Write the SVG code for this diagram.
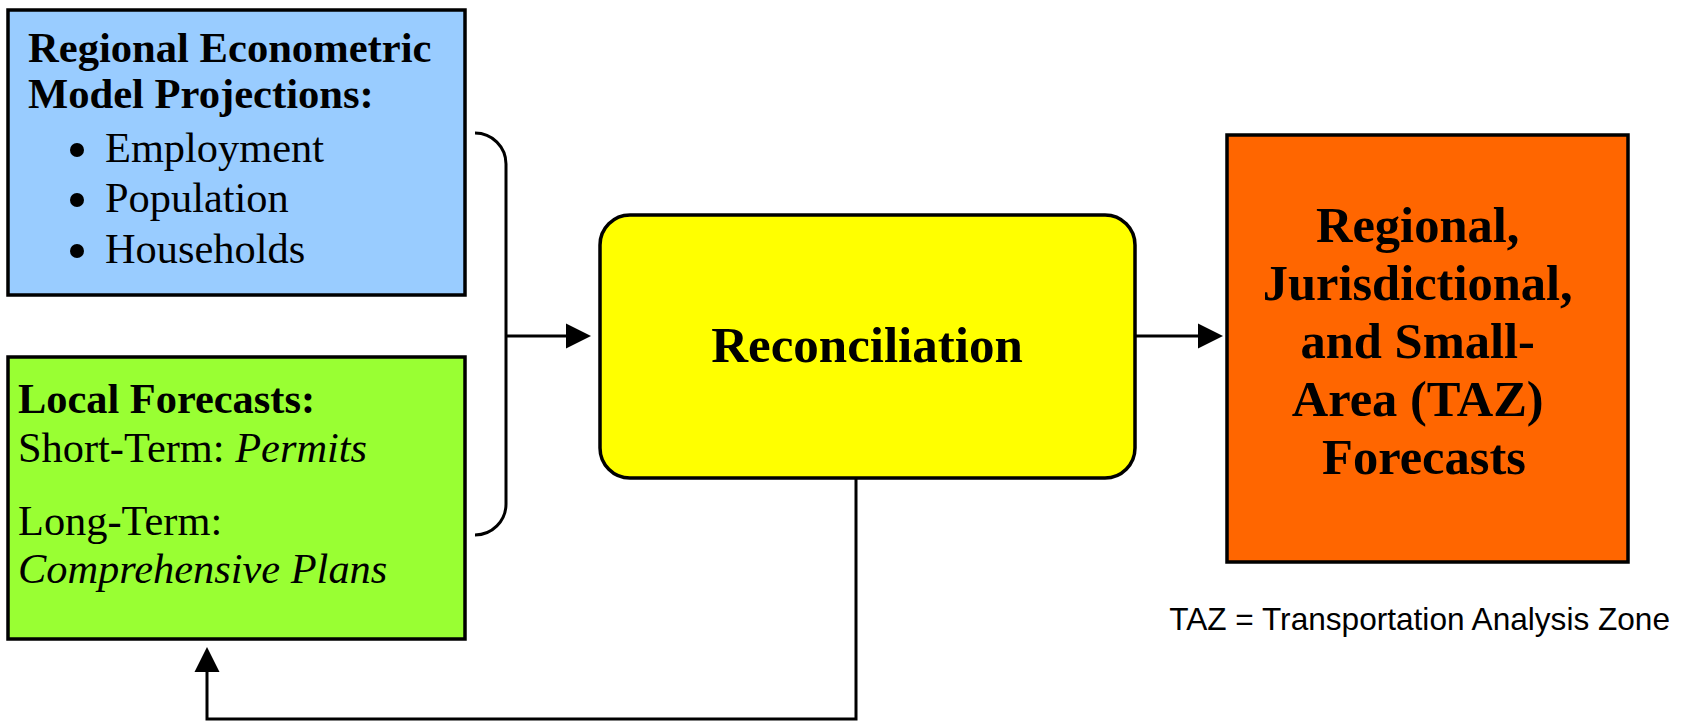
<svg xmlns="http://www.w3.org/2000/svg" width="1687" height="722" viewBox="0 0 1687 722">
<defs>
<style>
.box{stroke:#000;stroke-width:3.5}
.serif{font-family:"Liberation Serif","Times New Roman",serif;fill:#000}
.b{font-weight:bold}
.it{font-style:italic}
.conn{fill:none;stroke:#000;stroke-width:3}
.head{fill:#000;stroke:none}
</style>
</defs>
<rect width="1687" height="722" fill="#fff"/>
<g id="regional-model">
<rect class="box" x="8" y="10" width="457" height="285" fill="#99CCFF"/>
<text class="serif b" font-size="42.6" x="28" y="62">Regional Econometric</text>
<text class="serif b" font-size="42.6" x="28" y="108">Model Projections:</text>
<circle cx="77" cy="150" r="7"/>
<circle cx="77" cy="200" r="7"/>
<circle cx="77" cy="251" r="7"/>
<text class="serif" font-size="42.4" x="105" y="162">Employment</text>
<text class="serif" font-size="42.4" x="105" y="212">Population</text>
<text class="serif" font-size="42.4" x="105" y="263">Households</text>
</g>
<g id="local-forecasts">
<rect class="box" x="8" y="357" width="457" height="282" fill="#99FF33"/>
<text class="serif b" font-size="42.4" x="18" y="413">Local Forecasts:</text>
<text class="serif" font-size="42.4" x="18" y="462">Short-Term: <tspan class="it">Permits</tspan></text>
<text class="serif" font-size="42.4" x="18" y="535">Long-Term:</text>
<text class="serif it" font-size="42.4" x="18" y="583">Comprehensive Plans</text>
</g>
<g id="reconciliation">
<rect class="box" x="600" y="215" width="535" height="263" rx="30" ry="30" fill="#FFFF00"/>
<text class="serif b" font-size="51" x="867" y="362" text-anchor="middle">Reconciliation</text>
</g>
<g id="forecasts">
<rect class="box" x="1227" y="135" width="401" height="427" fill="#FF6600"/>
<text class="serif b" font-size="50.5" text-anchor="middle">
<tspan x="1424" y="242">Regional,</tspan>
<tspan x="1424" y="300">Jurisdictional,</tspan>
<tspan x="1424" y="358">and Small-</tspan>
<tspan x="1424" y="416">Area (TAZ)</tspan>
<tspan x="1424" y="474">Forecasts</tspan>
</text>
</g>
<g id="note">
<text font-family="Liberation Sans, Arial, sans-serif" font-size="31.6" x="1670" y="630" text-anchor="end" fill="#000">TAZ = Transportation Analysis Zone</text>
</g>
<g id="connectors">
<path class="conn" d="M475,133 A31,31 0 0 1 506,164 L506,504 A31,31 0 0 1 475,535"/>
<path class="conn" d="M506,336 L568,336"/>
<polygon class="head" points="591,336 566,323.5 566,348.5"/>
<path class="conn" d="M1135,336 L1200,336"/>
<polygon class="head" points="1223,336 1198,323.5 1198,348.5"/>
<path class="conn" d="M856,478 L856,719 L207,719 L207,670"/>
<polygon class="head" points="207,647 194.5,672 219.5,672"/>
</g>
</svg>
